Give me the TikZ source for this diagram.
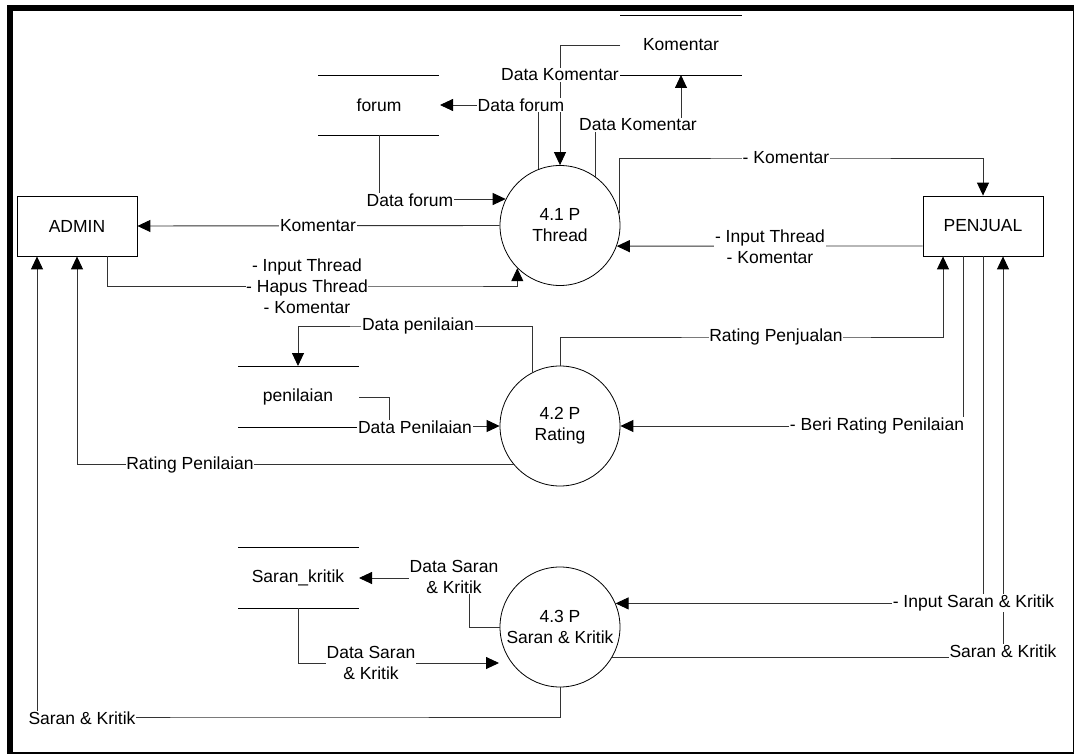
\documentclass[tikz,border=0pt]{standalone}
\usepackage{fontspec}
\setmainfont{Liberation Sans}
\usetikzlibrary{arrows.meta}
\tikzset{
  lbl/.style={fill=white, inner sep=0.6pt, align=center, font=\fontsize{17.5}{21}\selectfont},
  txt/.style={inner sep=0pt, align=center, font=\fontsize{17.5}{21}\selectfont},
  proc/.style={circle, draw=black, line width=0.8pt, minimum size=120pt, inner sep=0pt, align=center, font=\fontsize{17.5}{21}\selectfont},
  ent/.style={rectangle, draw=black, line width=0.8pt, minimum width=120pt, minimum height=60pt, inner sep=0pt, font=\fontsize{17.5}{21}\selectfont},
  flow/.style={draw=black!80, line width=0.9pt, -{Triangle[length=13pt,width=12pt,fill=black,black]}},
  storeline/.style={draw=black, line width=0.9pt}
}
\begin{document}
\begin{tikzpicture}[x=1pt,y=-1pt]
\useasboundingbox (0,0) rectangle (1074,754);
\clip (0,0) rectangle (1074,754);
\fill[white] (0,0) rectangle (1074,754);
% frame
\draw[line width=6pt, black] (9.8,8.5) rectangle (1076,755);

% entities
\node[ent] (admin) at (77,226) {ADMIN};
\node[ent] (penjual) at (983,226) {PENJUAL};

% processes
\node[proc] (c1) at (560,225.5) {4.1 P\\Thread};
\node[proc] (c2) at (560,426) {4.2 P\\Rating};
\node[proc] (c3) at (560,627) {4.3 P\\Saran \& Kritik};

% data stores
\draw[storeline] (318,75) -- (439,75) (318,135) -- (439,135);
\node[txt] (forum) at (379,105) {forum};
\draw[storeline] (620,15) -- (742,15) (620,75) -- (742,75);
\node[txt] (komentar) at (681,45) {Komentar};
\draw[storeline] (238,366) -- (359,366) (238,427) -- (359,427);
\node[txt] (penilaian) at (298,397) {penilaian};
\draw[storeline] (238,547) -- (359,547) (238,608) -- (359,608);
\node[txt] (saran) at (298,578) {Saran\_kritik};

% coordinates
\coordinate (kmL) at (620,45);
\coordinate (kmB) at (681,75);
\coordinate (fmR) at (440,105);
\coordinate (fmB) at (379,135);
\coordinate (pnT) at (298,366);
\coordinate (pnR) at (359,397);
\coordinate (skR) at (359,578);
\coordinate (skB) at (298,608);
\coordinate (c3in) at (499,663);

% connectors
\draw[flow] (kmL) -| (c1.north);
\draw[flow] (c1.54.3) |- (660,125) -| (kmB);
\draw[flow] (c1.111.5) |- (fmR);
\draw[flow] (fmB) |- (c1.154.85);
\draw[flow] (c1.west) -- (admin.east);
\draw[flow] ([xshift=30pt]admin.south) |- (450,286) -| (c1.225.6);
\draw[flow] (c1.12) |- (800,158) -| (penjual.north);
\draw[flow] ([yshift=-20pt]penjual.west) -- (c1.-20);

\draw[flow] (c2.north) |- (800,337) -| ([xshift=-40pt]penjual.south);
\draw[flow] (c2.117.8) |- (400,326) -| (pnT);
\draw[flow] (pnR) -| (389,426) -- (c2.west);
\draw[flow] ([xshift=-20pt]penjual.south) |- (c2.east);
\draw[flow] (c2.220.5) -| (admin.south);

\draw[flow] (c3.west) -| (469,578) -- (skR);
\draw[flow] (skB) |- (c3in);
\draw[flow] (penjual.south) |- (c3.23.6);
\draw[flow] (c3.-30) -| ([xshift=20pt]penjual.south);
\draw[flow] (c3.south) |- (300,717) -| ([xshift=-40pt]admin.south);

% labels
\node[lbl] (l1) at (560,75) {Data Komentar};
\node[lbl] (l2) at (638,125) {Data Komentar};
\node[lbl] (l3) at (521,105) {Data forum};
\node[lbl] (l4) at (410,200) {Data forum};
\node[lbl] (l5) at (318,226) {Komentar};
\node[lbl] (l6) at (307,286) {- Input Thread\\- Hapus Thread\\- Komentar};
\node[lbl] (l7) at (786,158) {- Komentar};
\node[lbl] (l8) at (770,246.5) {- Input Thread\\- Komentar};
\node[lbl] (l9) at (418,326) {Data penilaian};
\node[lbl] (l10) at (776,337) {Rating Penjualan};
\node[lbl] (l11) at (415,427) {Data Penilaian};
\node[lbl] (l12) at (877,426) {- Beri Rating Penilaian};
\node[lbl] (l13) at (190,465) {Rating Penilaian};
\node[lbl] (l14) at (454,577) {Data Saran\\\& Kritik};
\node[lbl] (l15) at (371,663) {Data Saran\\\& Kritik};
\node[lbl] (l16) at (973.5,603) {- Input Saran \& Kritik};
\node[lbl] (l17) at (1003,651) {Saran \& Kritik};
\node[lbl] (l18) at (82,718) {Saran \& Kritik};
\end{tikzpicture}
\end{document}
